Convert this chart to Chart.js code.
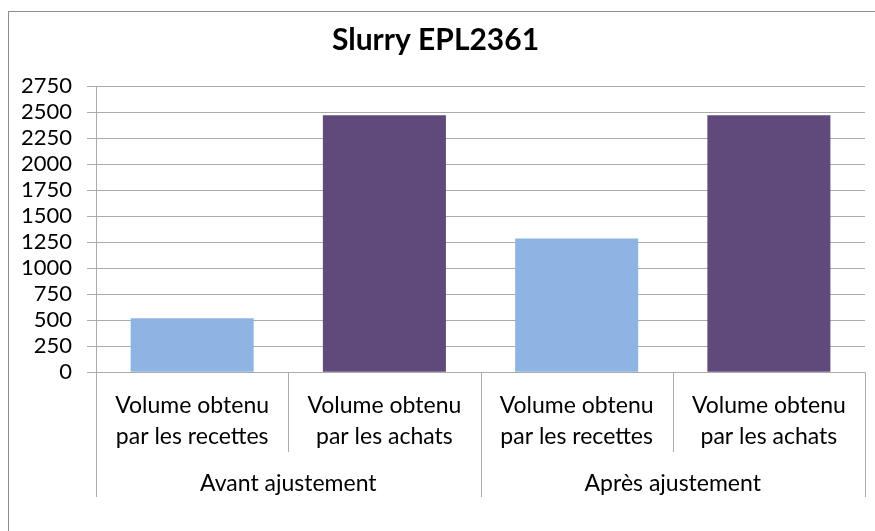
<!DOCTYPE html>
<html>
<head>
<meta charset="utf-8">
<script src="https://cdn.jsdelivr.net/npm/chart.js@4"></script>
<style>
  html, body { margin: 0; padding: 0; background: #fff; overflow: hidden; }
  #wrap { position: absolute; left: 0; top: 0; width: 875px; height: 531px; }
  #frame { position: absolute; left: 8px; top: 11px; width: 900px; height: 560px;
           border-left: 1.5px solid #8c8c8c; border-top: 1.5px solid #8c8c8c; }
</style>
</head>
<body>
<div id="frame"></div>
<div id="wrap"><canvas id="chart" width="875" height="531"></canvas></div>
<script>
/* ── Data ── */
const categories = [
  ['Volume obtenu', 'par les recettes'],
  ['Volume obtenu', 'par les achats'],
  ['Volume obtenu', 'par les recettes'],
  ['Volume obtenu', 'par les achats']
];
const groups = ['Avant ajustement', 'Après ajustement'];
const volumes = [520, 2470, 1285, 2470];
const barColors = ['#8eb4e3', '#604a7b', '#8eb4e3', '#604a7b'];

const FONT = 'Lato';
const GRID = '#ababab';

/* ── Category separators under the x axis ── */
const separators = {
  id: 'separators',
  afterDraw(chart) {
    const x = chart.scales.x, x2 = chart.scales.x2;
    const c = chart.ctx, n = categories.length;
    const edges = [];
    for (let i = 0; i <= n; i++) {
      if (i === 0) edges.push(chart.chartArea.left);
      else if (i === n) edges.push(chart.chartArea.right);
      else edges.push((x.getPixelForValue(i - 1) + x.getPixelForValue(i)) / 2);
    }
    const innerEnd = x.bottom - x.options.ticks.padding;
    c.save();
    c.strokeStyle = GRID; c.lineWidth = 1;
    edges.forEach((px, i) => {
      const bottom = (i % 2 === 0) ? x2.bottom : innerEnd;
      const xx = Math.round(px) + 0.5;
      c.beginPath(); c.moveTo(xx, chart.chartArea.bottom); c.lineTo(xx, bottom); c.stroke();
    });
    c.restore();
  }
};

new Chart(document.getElementById('chart'), {
  type: 'bar',
  data: {
    labels: categories,
    datasets: [{ data: volumes, backgroundColor: barColors, borderWidth: 0,
                 barPercentage: 0.64, categoryPercentage: 1 }]
  },
  options: {
    responsive: false, animation: false,
    layout: { padding: { left: 6, right: 10, top: 22, bottom: 34 } },
    plugins: {
      legend: { display: false },
      tooltip: { enabled: false },
      title: { display: true, text: 'Slurry EPL2361', color: '#000',
               font: { family: FONT, size: 30, weight: 'bold', lineHeight: 1.2 },
               padding: { top: 0, bottom: 28 } }
    },
    scales: {
      y: {
        min: 0, max: 2750,
        ticks: { stepSize: 250, autoSkip: false, color: '#000', padding: 15,
                 font: { family: FONT, size: 22 }, callback: v => String(v) },
        grid: { color: GRID, tickLength: 9, lineWidth: 1 },
        border: { color: GRID }
      },
      x: {
        grid: { display: false, drawTicks: false },
        border: { display: false },
        ticks: { color: '#000', padding: 17.5, maxRotation: 0, autoSkip: false,
                 font: { family: FONT, size: 23, lineHeight: 1.35 } }
      },
      x2: {
        type: 'category', position: 'bottom', labels: groups, offset: true,
        grid: { display: false, drawTicks: false }, border: { display: false },
        ticks: { color: '#000', padding: 0, font: { family: FONT, size: 23, lineHeight: 1.2 } }
      }
    }
  },
  plugins: [separators]
});
</script>
</body>
</html>
